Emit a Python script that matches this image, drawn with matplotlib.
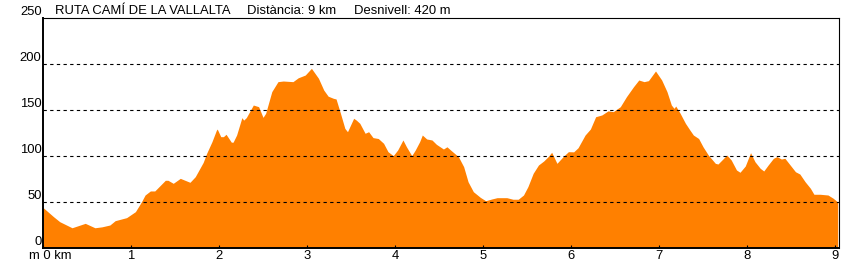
import matplotlib.pyplot as plt
import matplotlib.transforms as mtransforms

# perfil d'elevacio (km, m)
dist_km = [0.00, 0.12, 0.19, 0.33, 0.48, 0.59, 0.67, 0.76, 0.82, 0.95,
           1.05, 1.12, 1.16, 1.22, 1.27, 1.39, 1.42, 1.48, 1.56, 1.67,
           1.73, 1.82, 1.86, 1.92, 1.97, 1.98, 2.02, 2.05, 2.08, 2.14,
           2.16, 2.20, 2.26, 2.28, 2.31, 2.39, 2.45, 2.50, 2.53, 2.60,
           2.67, 2.73, 2.84, 2.90, 2.98, 3.05, 3.13, 3.19, 3.24, 3.30,
           3.33, 3.38, 3.43, 3.46, 3.53, 3.56, 3.60, 3.66, 3.70, 3.75,
           3.81, 3.87, 3.92, 3.98, 4.03, 4.09, 4.13, 4.19, 4.23, 4.28,
           4.31, 4.36, 4.42, 4.47, 4.55, 4.59, 4.64, 4.72, 4.78, 4.83,
           4.89, 4.97, 5.03, 5.10, 5.16, 5.27, 5.34, 5.40, 5.46, 5.51,
           5.57, 5.63, 5.69, 5.74, 5.78, 5.84, 5.91, 5.97, 6.03, 6.08,
           6.16, 6.22, 6.28, 6.35, 6.42, 6.48, 6.56, 6.63, 6.71, 6.77,
           6.83, 6.88, 6.96, 7.03, 7.09, 7.14, 7.17, 7.19, 7.24, 7.30,
           7.35, 7.39, 7.45, 7.50, 7.56, 7.64, 7.67, 7.77, 7.82, 7.88,
           7.92, 7.98, 8.04, 8.09, 8.15, 8.19, 8.24, 8.30, 8.34, 8.39,
           8.43, 8.49, 8.55, 8.60, 8.66, 8.72, 8.76, 8.83, 8.92, 8.98,
           9.03]
elev_m = [44, 34, 28.6, 22, 26.8, 22, 23, 25, 29.7, 33,
          39.5, 50.4, 57.6, 62, 62, 73.6, 73.6, 70.3, 75.7, 71.4,
          77.5, 93, 103, 115.6, 128, 129.3, 121, 121, 123.6, 115,
          115, 122.8, 141.7, 139, 141.7, 155.4, 153.6, 142, 146.4, 170,
          180.8, 181.5, 180.8, 185, 188, 195.3, 184.5, 171.7, 165, 162.7,
          162, 146.4, 130, 126.4, 141, 139, 135.5, 124.7, 126.4, 120,
          119, 113.8, 104.7, 100.4, 106.5, 117.4, 110, 100.4, 106.5, 115.6,
          122.8, 118.5, 117.4, 112.7, 107.6, 110, 105.8, 99.3, 88.4, 72,
          61.2, 55, 51.4, 53.3, 54.7, 54.7, 53, 53, 57.6, 66.7,
          81.2, 90.2, 94.6, 99.3, 104, 92, 99.3, 104.7, 104.5, 109,
          122.8, 129.3, 142.7, 144.6, 149, 148.2, 153.6, 164.5, 175.3, 182.6,
          180.8, 181.9, 192.4, 182.6, 170, 155.4, 151.8, 154.3, 146.4, 135.5,
          128.3, 122.8, 119, 110, 101, 92, 91.3, 101, 95.7, 84.8,
          82.3, 89.1, 103.6, 93.8, 86.6, 83.7, 90.2, 97.5, 99.3, 96.7,
          97.5, 90.2, 82.9, 80.4, 72, 64.9, 58.4, 58.4, 57.6, 54,
          50]

y_ticks = [0, 50, 100, 150, 200, 250]
x_ticks = [0, 1, 2, 3, 4, 5, 6, 7, 8, 9]
x_labels = ["m 0 km", "1", "2", "3", "4", "5", "6", "7", "8", "9"]

titol = "RUTA CAMÍ DE LA VALLALTA"
distancia = "Distància: 9 km"
desnivell = "Desnivell: 420 m"

plt.rcParams['font.family'] = ['Liberation Sans', 'DejaVu Sans']
plt.rcParams['font.size'] = 9.4

fig = plt.figure(figsize=(8.6, 2.61), dpi=100)
ax = fig.add_axes([43 / 860, 13 / 261, 796 / 860, 230 / 261])

ax.fill_between(dist_km, elev_m, 0, color='#ff8000', linewidth=0, zorder=1)

ax.set_xlim(0, 9.045)
ax.set_ylim(0, 250)

for v in y_ticks[1:-1]:
    ax.axhline(v, color='black', linewidth=0.8, linestyle=(0, (3, 3)), zorder=2)

ax.set_yticks(y_ticks)
ax.set_yticklabels([str(v) for v in y_ticks])
ax.tick_params(axis='y', length=0, pad=1)
for lab in ax.get_yticklabels():
    lab.set_verticalalignment('bottom')

ax.set_xticks(x_ticks)
ax.set_xticklabels(x_labels)
ax.tick_params(axis='x', length=2, width=0.8, pad=1.5, direction='in')
shift = mtransforms.ScaledTranslation(7 / 100, 0, fig.dpi_scale_trans)
lab0 = ax.get_xticklabels()[0]
lab0.set_transform(lab0.get_transform() + shift)

for s in ['top', 'right']:
    ax.spines[s].set_linewidth(0.8)
for s in ['left', 'bottom']:
    ax.spines[s].set_linewidth(1.4)

fig.text(55 / 860, 1 - 14 / 261, titol, ha='left', va='baseline')
fig.text(247 / 860, 1 - 14 / 261, distancia, ha='left', va='baseline')
fig.text(354 / 860, 1 - 14 / 261, desnivell, ha='left', va='baseline')

fig.savefig('out.png', dpi=100)
